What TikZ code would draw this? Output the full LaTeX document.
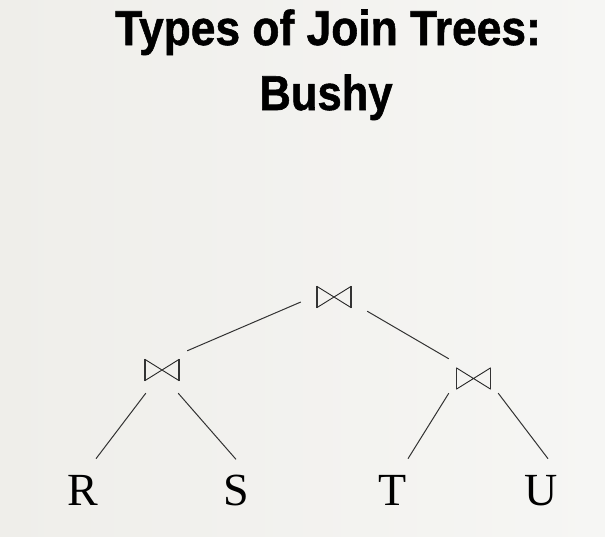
\documentclass[tikz,border=0pt]{standalone}
\usepackage{fontspec}
\setmainfont{Liberation Serif}
\newfontfamily\titlefont{Liberation Sans}[BoldFeatures={FakeBold=1.2}]
\definecolor{bgL}{RGB}{239,238,234}
\definecolor{bgR}{RGB}{246,246,244}
\definecolor{edgecol}{RGB}{50,50,50}
\begin{document}
\begin{tikzpicture}[x=1pt,y=-1pt,
  titletext/.style={inner sep=0pt, anchor=base, font=\titlefont\bfseries\fontsize{49}{54}\selectfont},
  bowbox/.style={minimum width=34pt, minimum height=21pt, inner sep=0pt},
  leaf/.style={inner sep=0pt, anchor=base, font=\fontsize{46}{50}\selectfont},
  edge/.style={draw=edgecol, line width=1pt}]
\useasboundingbox (0,0) rectangle (605,536);
\shade[left color=bgL, right color=bgR] (0,0) rectangle (605,536);
% title
\node[titletext] (t1) at (328,45) {\scalebox{0.905}[1]{Types of Join Trees:}};
\node[titletext] (t2) at (326,110) {\scalebox{0.89}[1]{Bushy}};
% join nodes
\node[bowbox] (top) at (334,297) {};
\node[bowbox] (lj) at (162,370) {};
\node[bowbox] (rj) at (473.5,378.5) {};
\foreach \n in {top,lj,rj}{
  \draw[line width=0.9pt, black!85] (\n.north west) -- (\n.south east) (\n.north east) -- (\n.south west);
  \draw[line width=1.5pt, black!80] (\n.north west) -- (\n.south west) (\n.north east) -- (\n.south east);
}
% leaves
\node[leaf] (R) at (83,505) {R};
\node[leaf] (S) at (236,505) {S};
\node[leaf] (T) at (393,505) {T};
\node[leaf] (U) at (541,505) {U};
% connectors
\draw[edge] ([shift={(8,-8.5)}]lj.north east) -- ([shift={(-16,5)}]top.west);
\draw[edge] ([shift={(16,3.5)}]top.south east) -- ([shift={(-7.5,-9)}]rj.north west);
\draw[edge] ([shift={(1,12.5)}]lj.south west) -- ([shift={(13,-16)}]R.north);
\draw[edge] ([shift={(-1,12.5)}]lj.south east) -- ([shift={(0,-15)}]S.north);
\draw[edge] ([shift={(-7.5,4)}]rj.south west) -- ([shift={(15,-16)}]T.north);
\draw[edge] ([shift={(7.5,4)}]rj.south east) -- ([shift={(7,-16)}]U.north);
\end{tikzpicture}
\end{document}
